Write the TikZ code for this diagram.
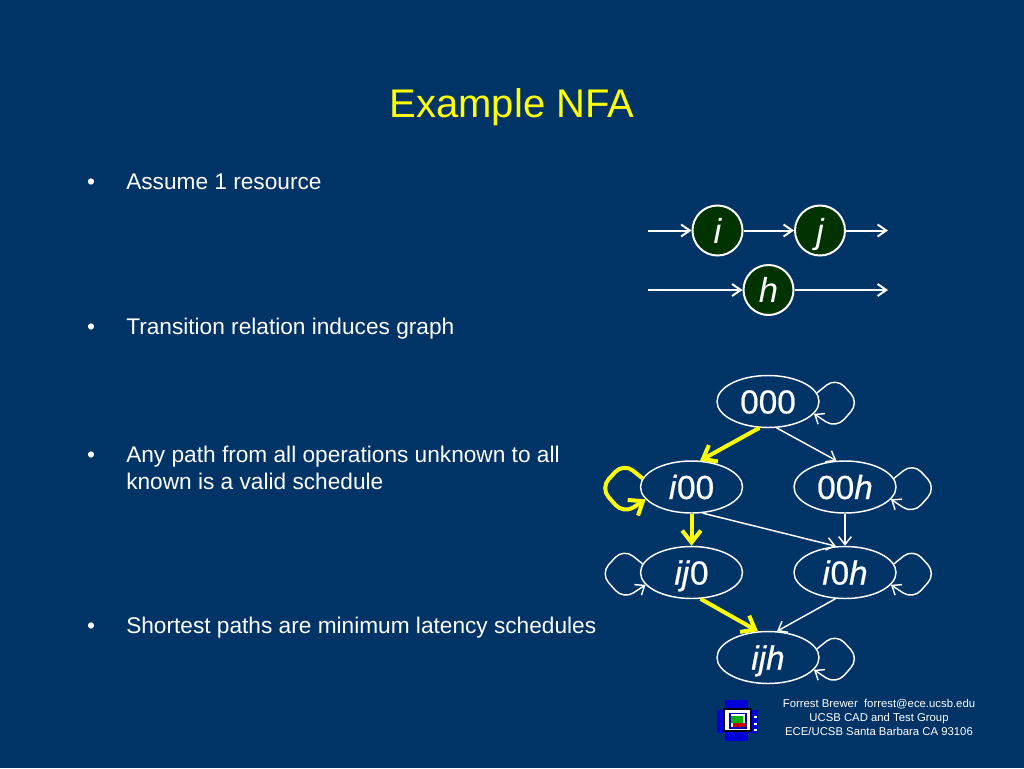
\documentclass[tikz,border=0pt]{standalone}
\usepackage{fontspec}
\setmainfont{Liberation Sans}
\newfontfamily\statefont[FakeBold=0.7]{Liberation Sans}
\usetikzlibrary{shapes.geometric,arrows.meta}
\definecolor{bg}{HTML}{003366}
\definecolor{nfayellow}{HTML}{FFFF00}
\definecolor{opgreen}{HTML}{003300}
\newcommand{\fs}[1]{\fontsize{#1}{#1}\selectfont}
\tikzset{
 x=0.75pt,y=-0.75pt,
 body/.style={anchor=base west,inner sep=0,text=white,font=\fs{17}},
 bulletmark/.style={anchor=base,inner sep=0,text=white,font=\fs{17}},
 foot/.style={anchor=base,inner sep=0,text=white,font=\fs{8.5}},
 state/.style={draw=white,line width=1.1pt,ellipse,minimum width=76.5pt,minimum height=39pt,inner sep=0,text=white,font=\statefont\fs{25},text height=18pt,text depth=0pt},
 op/.style={circle,draw=white,fill=opgreen,line width=1.5pt,minimum size=37.5pt,inner sep=0,text=white,font=\fs{26}\itshape,text height=19pt,text depth=0pt},
 wire/.style={draw=white,line width=1.1pt,-{Straight Barb[length=6pt,width=9.5pt,line width=1.1pt]}},
 hot/.style={draw=nfayellow,line width=3pt,-{Straight Barb[length=9pt,width=14pt,line width=3pt]}},
 opwire/.style={draw=white,line width=1.5pt,-{Straight Barb[length=6.5pt,width=9pt,line width=1.5pt]}},
}
% self loop: node, style, x direction, start anchor, end anchor
\newcommand{\selfloop}[5]{%
 \draw[#2,rounded corners=9pt,shift={(#1.center)},xscale=#3]
   (#1.#4) -- (68,-24) -- (91,1) -- (68,27) -- (#1.#5);}
\begin{document}
\begin{tikzpicture}
\useasboundingbox (0,0) rectangle (1024,768);
\fill[bg] (0,0) rectangle (1024,768);
\node[anchor=base,inner sep=0,text=nfayellow,font=\fs{30}] (title) at (512,117) {Example NFA};
\node[bulletmark] (b1) at (91,189.5) {•};
\node[body] (t1) at (126,189.5) {Assume 1 resource};
\node[bulletmark] (b2) at (91,334.5) {•};
\node[body] (t2) at (126,334.5) {Transition relation induces graph};
\node[bulletmark] (b3) at (91,462.5) {•};
\node[body] (t3) at (126,462.5) {Any path from all operations unknown to all};
\node[body] (t3b) at (126,489.5) {known is a valid schedule};
\node[bulletmark] (b4) at (91,633.5) {•};
\node[body] (t4) at (126,633.5) {Shortest paths are minimum latency schedules};
% operations
\node[op] (i) at (717.5,230.5) {i};
\node[op] (j) at (820,230.5) {j};
\node[op] (h) at (768.5,290) {h};
\coordinate (ia) at (648,230.5);
\coordinate (jb) at (888,230.5);
\coordinate (ha) at (648,290);
\coordinate (hb) at (888,290);
\draw[opwire] (ia) -- (i);
\draw[opwire] (i) -- (j);
\draw[opwire] (j) -- (jb);
\draw[opwire] (ha) -- (h);
\draw[opwire] (h) -- (hb);
% states
\node[state] (s000) at (768,401.5) {000};
\node[state] (si00) at (691.5,487) {\textit{i}00};
\node[state] (s00h) at (845,487) {00\textit{h}};
\node[state] (sij0) at (691.5,572.5) {\textit{ij}0};
\node[state] (si0h) at (845,572.5) {\textit{i}0\textit{h}};
\node[state] (sijh) at (768,657.5) {\textit{ijh}};
\draw[hot] (s000.-108) -- (si00.72);
\draw[wire] (s000.-72) -- (s00h.108);
\draw[hot] (si00) -- (sij0);
\draw[wire] (si00.-67) -- (si0h.109);
\draw[wire] (s00h) -- (si0h);
\draw[hot] (sij0.-71) -- (sijh.111);
\draw[wire] (si0h.250) -- (sijh.71);
\selfloop{s000}{wire}{1}{10}{-15}
\selfloop{s00h}{wire}{1}{10}{-15}
\selfloop{si0h}{wire}{1}{10}{-15}
\selfloop{sijh}{wire}{1}{10}{-15}
\selfloop{sij0}{wire}{-1}{170}{195}
\selfloop{si00}{hot}{-1}{170}{195}
% footer
\node[foot] (f1t) at (879,707) {Forrest Brewer\ \ forrest@ece.ucsb.edu};
\node[foot] (f2t) at (879,721) {UCSB CAD and Test Group};
\node[foot] (f3t) at (879,735) {ECE/UCSB Santa Barbara CA 93106};
% logo
\fill[blue!85!black] (725,700) rectangle (748,741);
\fill[blue!85!black] (717,710) rectangle (758,733);
\fill[black] (723,708) rectangle (752,732);
\fill[white] (725,710) rectangle (750,730);
\fill[blue!70!black] (729,713) rectangle (747,729);
\fill[white] (731,714) rectangle (745,727);
\fill[green!70!black] (731,716) rectangle (743,723);
\fill[red!75!black] (733,723) rectangle (745,727);
\fill[white] (754,716) rectangle (757,718);
\fill[white] (754,723) rectangle (757,725);
\fill[white] (754,729) rectangle (757,731);
\end{tikzpicture}
\end{document}
